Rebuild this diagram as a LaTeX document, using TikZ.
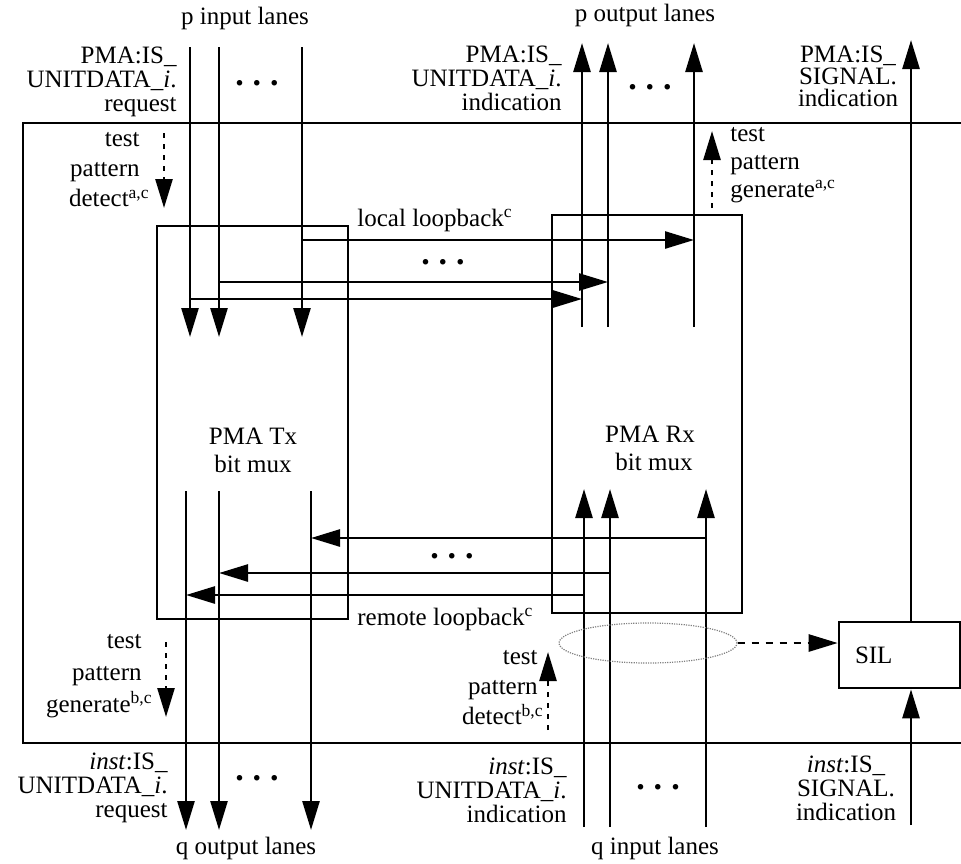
\documentclass[tikz,border=0pt]{standalone}
\usepackage{fontspec}
\setmainfont{Liberation Serif}
\usetikzlibrary{arrows.meta,shapes.geometric}
\tikzset{
  ln/.style={line width=1.3pt},
  arr/.style={ln, -{Triangle[length=14.5pt,width=8.5pt]}},
  darr/.style={arr, dash pattern=on 2.5pt off 3pt},
  box/.style={draw, line width=1.3pt, inner sep=0pt, rectangle},
  txt/.style={font=\fontsize{12.5}{12}\selectfont, inner sep=0pt},
  dots/.style={font=\fontsize{17}{17}\selectfont\bfseries, inner sep=0pt},
}
\newcommand{\threedots}{.\kern4.5pt.\kern4.5pt.}
\begin{document}
\begin{tikzpicture}[x=0.5pt,y=-0.5pt]
\useasboundingbox (0,0) rectangle (961,863);
% outer box (open on the right)
\coordinate (otr) at (961,123);
\coordinate (otl) at (23,123);
\coordinate (obl) at (23,743);
\coordinate (obr) at (961,743);
\draw[ln] (otr) -- (otl) -- (obl) -- (obr);
% main boxes
\node[box, minimum width=95.5pt, minimum height=196.5pt] (tx) at (252.5,422.5) {};
\node[box, minimum width=95pt, minimum height=199pt] (rx) at (647,414) {};
\node[box, minimum width=60.5pt, minimum height=33pt, text width=44.5pt, inner xsep=8pt, align=left, font=\fontsize{12.5}{12}\selectfont] (sil) at (899.5,655) {SIL};
\node[txt, align=center, font=\fontsize{12.5}{14}\selectfont] (txl) at (253,450) {PMA Tx\\bit mux};
\node[txt, align=center, font=\fontsize{12.5}{14}\selectfont] (rxl) at (650,448) {PMA Rx\\\hspace*{4pt}bit mux};
% p input lanes (top, into Tx)
\foreach \x/\n in {190/1,219/2,302/3}{
  \coordinate (pin\n) at (\x,47);
  \coordinate (pinE\n) at (\x,337);
  \draw[arr] (pin\n) -- (pinE\n);
}
% p output lanes (top, out of Rx)
\foreach \x/\n in {582/1,608/2,694/3}{
  \coordinate (pout\n) at (\x,327);
  \coordinate (poutE\n) at (\x,43);
  \draw[arr] (pout\n) -- (poutE\n);
}
% local loopback
\coordinate (ll1s) at (190,299); \coordinate (ll1e) at (582,299);
\coordinate (ll2s) at (219,282); \coordinate (ll2e) at (608,282);
\coordinate (ll3s) at (302,240); \coordinate (ll3e) at (694,240);
\draw[arr] (ll1s) -- (ll1e);
\draw[arr] (ll2s) -- (ll2e);
\draw[arr] (ll3s) -- (ll3e);
% q input lanes (bottom, into Rx)
\foreach \x/\n in {584/1,610/2,706/3}{
  \coordinate (qin\n) at (\x,827);
  \coordinate (qinE\n) at (\x,489);
  \draw[arr] (qin\n) -- (qinE\n);
}
% q output lanes (bottom, out of Tx)
\foreach \x/\n in {186/1,219/2,311/3}{
  \coordinate (qout\n) at (\x,491);
  \coordinate (qoutE\n) at (\x,830);
  \draw[arr] (qout\n) -- (qoutE\n);
}
% remote loopback
\coordinate (rl1s) at (584,595); \coordinate (rl1e) at (186,595);
\coordinate (rl2s) at (610,573); \coordinate (rl2e) at (219,573);
\coordinate (rl3s) at (706,538); \coordinate (rl3e) at (311,538);
\draw[arr] (rl1s) -- (rl1e);
\draw[arr] (rl2s) -- (rl2e);
\draw[arr] (rl3s) -- (rl3e);
% signal path
\coordinate (sigtop) at (911,40);
\coordinate (sigbot) at (911,825);
\draw[arr] (sil.north -| sigtop) -- (sigtop);
\draw[arr] (sigbot) -- (sigbot |- sil.south);
% ellipse grouping and dashed arrow to SIL
\node[draw=gray, dash pattern=on 0.6pt off 0.6pt, line width=0.6pt, ellipse, minimum width=89pt, minimum height=20pt, inner sep=0pt] (grp) at (648,643) {};
\draw[ln, dash pattern=on 3.5pt off 3.5pt, -{Triangle[length=14.5pt,width=8.5pt]}] (grp.east) -- (grp.east -| sil.west);
% test pattern dashed arrows
\coordinate (tpa1s) at (164,133); \coordinate (tpa1e) at (164,208);
\coordinate (tpa2s) at (712,208); \coordinate (tpa2e) at (712,131);
\coordinate (tpa3s) at (166,642); \coordinate (tpa3e) at (166,717);
\coordinate (tpa4s) at (548,730); \coordinate (tpa4e) at (548,652);
\draw[darr] (tpa1s) -- (tpa1e);
\draw[darr] (tpa2s) -- (tpa2e);
\draw[darr] (tpa3s) -- (tpa3e);
\draw[darr] (tpa4s) -- (tpa4e);
% ellipsis dots
\node[dots] (d1) at (257,83) {\threedots};
\node[dots] (d2) at (650,87) {\threedots};
\node[dots] (d3) at (443,262) {\threedots};
\node[dots] (d4) at (452,556) {\threedots};
\node[dots] (d5) at (257,778) {\threedots};
\node[dots] (d6) at (658,787) {\threedots};
% labels
\node[txt] (pil) at (245,18) {p input lanes};
\node[txt] (pol) at (645,15) {p output lanes};
\node[txt] (qol) at (246,848) {q output lanes};
\node[txt] (qil) at (655,848) {q input lanes};
\node[txt, align=right, anchor=east] (lreq) at (177,82) {PMA:IS\_\\UNITDATA\_\textit{i}.\\request};
\node[txt, align=right, anchor=east] (lind) at (562,78) {PMA:IS\_\\UNITDATA\_\textit{i}.\\indication};
\node[txt, align=center, font=\fontsize{12.5}{11}\selectfont] (sigind) at (848,76) {PMA:IS\_\\SIGNAL.\\indication};
\node[txt, align=right, anchor=east, font=\fontsize{12.5}{15}\selectfont] (tpd1) at (140,170) {test\\pattern\\detect\textsuperscript{a,c}\kern-5pt};
\node[txt, align=left, anchor=west, font=\fontsize{12.5}{14}\selectfont] (tpg1) at (730,165) {test\\pattern\\generate\textsuperscript{a,c}};
\node[txt, anchor=west] (llb) at (357,220) {local loopback\textsuperscript{c}};
\node[txt, anchor=west] (rlb) at (357,619) {remote loopback\textsuperscript{c}};
\node[txt, align=right, anchor=east, font=\fontsize{12.5}{16}\selectfont] (tpg2) at (142,676) {test\\pattern\\generate\textsuperscript{b,c}\kern-5.5pt};
\node[txt, align=right, anchor=east, font=\fontsize{12.5}{15}\selectfont] (tpd2) at (538,688) {test\\pattern\\detect\textsuperscript{b,c}\kern-3pt};
\node[txt, align=right, anchor=east] (ireq) at (168,788) {\textit{inst}:IS\_\\UNITDATA\_\textit{i}.\\request};
\node[txt, align=right, anchor=east] (iind) at (567,790) {\textit{inst}:IS\_\\UNITDATA\_\textit{i}.\\indication};
\node[txt, align=center] (isig) at (846,788) {\textit{inst}:IS\_\\SIGNAL.\\indication};
\end{tikzpicture}
\end{document}
